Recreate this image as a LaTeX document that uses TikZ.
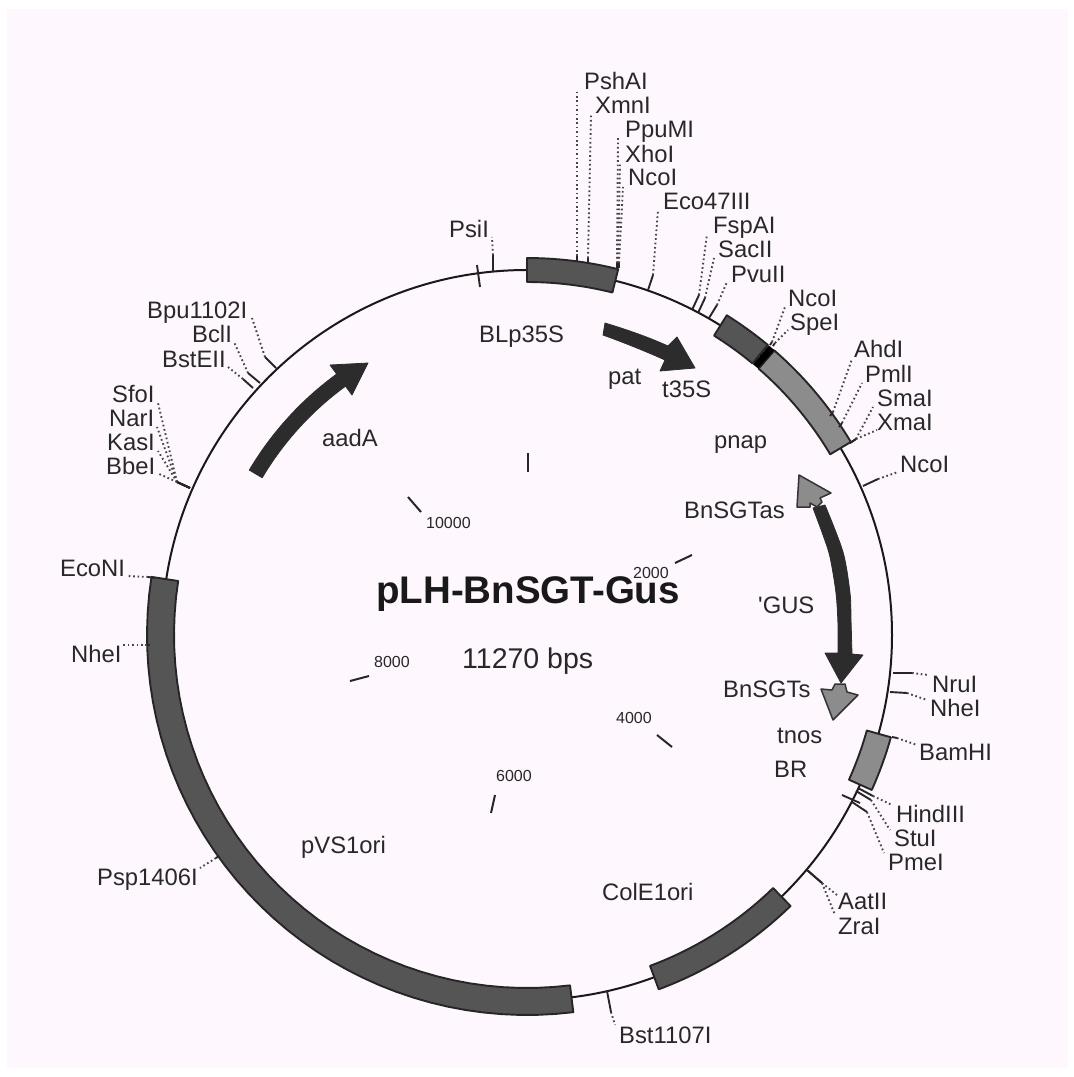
\documentclass[tikz,border=0pt]{standalone}
\usepackage{fontspec}
\setmainfont{Liberation Sans}
\newfontfamily\plainfont{Liberation Sans}
\definecolor{paper}{HTML}{FEF8FE}
\definecolor{ink}{HTML}{282828}
\definecolor{darkbox}{HTML}{555555}
\definecolor{midbox}{HTML}{8C8C8C}
\definecolor{arrowdark}{HTML}{2C2C2C}
\tikzset{
  backbone/.style={draw=black!90,line width=2pt},
  dark segment/.style={fill=darkbox,draw=black!85,line width=1.9pt,line join=round},
  mid segment/.style={fill=midbox,draw=black!85,line width=1.9pt,line join=round},
  gene arrow/.style={fill=arrowdark,draw=arrowdark,line width=0.8pt,line join=round},
  light head/.style={fill=midbox,draw=black!80,line width=1.5pt,line join=round},
  sitetick/.style={draw=black!85,line width=1.9pt},
  leader/.style={draw=black!72,line width=1.9pt,dash pattern=on 1.7pt off 2.7pt},
  scaletick/.style={draw=black!85,line width=2pt},
  lab/.style={anchor=base west,inner sep=0pt,text=ink,font=\fontsize{23.8}{24}\selectfont},
  scalelab/.style={anchor=base west,inner sep=0pt,text=ink,font=\fontsize{16}{16}\selectfont},
}
\newcommand\ringseg[5]{\draw[#1] plot[domain=#2:#3,samples=40] ({527+(#5)*sin(\x)},{635-(#5)*cos(\x)}) -- plot[domain=#3:#2,samples=40] ({527+(#4)*sin(\x)},{635-(#4)*cos(\x)}) -- cycle;}
% id, label, label base-west, tick start, tick end, leader end
\newcommand\site[6]{%
  \node[lab] (lab#1) at (#3) {#2};
  \coordinate (a#1) at (#4);
  \coordinate (b#1) at (#5);
  \coordinate (c#1) at (#6);
  \draw[sitetick] (a#1) -- (b#1);
  \draw[leader] (b#1) -- (c#1);
}
\newcommand\genelab[3]{\node[lab] (g#1) at (#3) {#2};}
\newcommand\scalemark[5]{%
  \coordinate (sa#1) at (#3);
  \coordinate (sb#1) at (#4);
  \draw[scaletick] (sa#1) -- (sb#1);
  \node[scalelab] (s#1) at (#5) {#2};
}
\begin{document}
\begin{tikzpicture}[x=1pt,y=-1pt]
\useasboundingbox (0,0) rectangle (1074,1077);
\fill[white] (0,0) rectangle (1074,1077);
\fill[paper] (7,9) rectangle (1068,1068);
% backbone
\coordinate (centre) at (527,635);
\draw[backbone] (centre) circle [radius=365];
% segments
\ringseg{dark segment}{0}{14}{353}{377}
\ringseg{dark segment}{32}{39.7}{353}{377}
\ringseg{mid segment}{41}{59.2}{353}{377}
\ringseg{mid segment}{105.7}{114.2}{353}{378}
\ringseg{dark segment}{135.8}{159.6}{353}{378}
\ringseg{dark segment}{173}{278.8}{353}{380}
\ringseg{fill=black,draw=black,line width=0.5pt}{39.9}{40.9}{353}{377}
% aadA arrow
\ringseg{gene arrow}{300.7}{325}{308}{323}
\draw[gene arrow] (330,365) -- (368,363) -- (352,395) -- cycle;
% pat arrow
\draw[gene arrow] (603,335) -- (605,323) .. controls (628,330) and (648,337) .. (668,346) -- (677,337) -- (695,368) -- (660,371) -- (665,360) .. controls (645,351) and (625,343) .. (603,335) -- cycle;
% GUS arrow
\draw[gene arrow] plot[smooth] coordinates {(813,508) (823,535) (830,557) (836,593) (838,625) (838,653)} -- (825,653) -- (841,683) -- (863,655) -- (852,654) -- plot[smooth] coordinates {(852,654) (851,620) (850,593) (843,552) (825,505)} -- cycle;
% light arrow heads
\draw[light head] (799,475) -- (831,493) -- (820,498) -- (822,502) -- (817,507) -- (810,503) -- (810,507) -- (797,507) -- cycle;
\draw[light head] (821,689) -- (832,690) -- (835,684) -- (845,684) -- (847,692) -- (858,695) -- (833,720) -- cycle;
% restriction sites
\site{psha}{PshAI}{584,89}{577,262}{577,256}{577,92}
\site{xmn}{XmnI}{595,113}{588,264}{588,258}{591,115}
\site{ppu}{PpuMI}{625,137}{617,268}{617,263}{618,138}
\site{xho}{XhoI}{625,162}{618,268}{618,263}{620,163}
\site{nco}{NcoI}{628,185}{619,268}{619,263}{623,187}
\site{eco}{Eco47III}{663,209}{648,290}{653,275}{658,210}
\site{fsp}{FspAI}{713,233}{692,310}{699,295}{707,234}
\site{sac}{SacII}{718,257}{698,313}{705,298}{714,258}
\site{pvu}{PvuII}{731,282}{709,318}{717,305}{727,282}
\site{psi}{PsiI}{449,237}{493,272}{493,255}{492,237}
\site{ncob}{NcoI}{788,306}{770,345}{772,342}{785,307}
\site{spe}{SpeI}{790,330}{773,346}{775,343}{788,330}
\site{ahd}{AhdI}{854,357}{830,416}{833,412}{852,359}
\site{pml}{PmlI}{865,382}{839,427}{842,423}{862,383}
\site{sma}{SmaI}{877,406}{850,443}{856,439}{873,407}
\site{xma}{XmaI}{877,430}{850,443}{856,439}{877,430}
\site{ncoc}{NcoI}{900,472}{863,486}{878,479}{898,472}
\site{nru}{NruI}{932,692}{893,673}{912,673}{928,675}
\site{nhe}{NheI}{930,716}{890,692}{907,693}{927,700}
\site{bam}{BamHI}{919,760}{892,737}{897,738}{917,745}
\site{hin}{HindIII}{896,822}{858,788}{873,796}{892,805}
\site{stu}{StuI}{894,846}{856,791}{871,800}{890,830}
\site{pme}{PmeI}{888,870}{852,802}{867,812}{884,853}
\site{aat}{AatII}{838,909}{807,870}{822,883}{837,895}
\site{zra}{ZraI}{838,934}{807,870}{822,883}{835,915}
\site{bst}{Bst1107I}{619,1043}{607,991}{611,1012}{615,1025}
\site{psp}{Psp1406I}{97,885}{219,856}{216,858}{200,868}
\site{econ}{EcoNI}{60,576}{155,578}{148,577}{127,576}
\site{nhel}{NheI}{71,662}{150,645}{147,645}{123,645}
\site{bpu}{Bpu1102I}{147,318}{276,368}{265,357}{252,318}
\site{bcl}{BclI}{192,342}{260,383}{248,373}{234,342}
\site{bste}{BstEII}{162,367}{253,388}{243,379}{228,367}
\site{sfo}{SfoI}{112,402}{190,488}{177,482}{158,403}
\site{nar}{NarI}{109,426}{190,488}{177,482}{157,427}
\site{kas}{KasI}{107,450}{190,488}{177,482}{158,451}
\site{bbe}{BbeI}{106,474}{190,488}{177,482}{157,473}
% two unlabelled marks
\coordinate (xa) at (477,265); \coordinate (xb) at (480,287);
\draw[sitetick] (xa) -- (xb);
\coordinate (ya) at (842,795); \coordinate (yb) at (860,803);
\draw[sitetick] (ya) -- (yb);
% gene labels
\genelab{blp}{BLp35S}{479,342}
\genelab{pat}{pat}{608,384}
\genelab{t}{t35S}{662,397}
\genelab{pnap}{pnap}{714,448}
\genelab{as}{BnSGTas}{684,518}
\genelab{gus}{{\plainfont 'GUS}}{758,613}
\genelab{s}{BnSGTs}{723,697}
\genelab{tnos}{tnos}{777,743}
\genelab{br}{BR}{774,777}
\genelab{aad}{aadA}{322,446}
\genelab{pvs}{pVS1ori}{301,853}
\genelab{col}{ColE1ori}{602,900}
% scale
\coordinate (za) at (528,453); \coordinate (zb) at (528,472);
\draw[scaletick] (za) -- (zb);
\scalemark{10}{10000}{408,497}{421,512}{426,528}
\scalemark{2}{2000}{675,563}{692,555}{633,578}
\scalemark{8}{8000}{350,681}{369,676}{374,667}
\scalemark{4}{4000}{657,735}{672,747}{616,723}
\scalemark{6}{6000}{495,795}{491,813}{496,781}
% title
\node[anchor=base west,inner sep=0pt,text=black!90,font=\fontsize{38.5}{38.5}\selectfont\bfseries] (title) at (376,603) {pLH-BnSGT-Gus};
\node[anchor=base west,inner sep=0pt,text=ink,font=\fontsize{28.5}{28.5}\selectfont] (size) at (462,668) {11270 bps};
\end{tikzpicture}
\end{document}
